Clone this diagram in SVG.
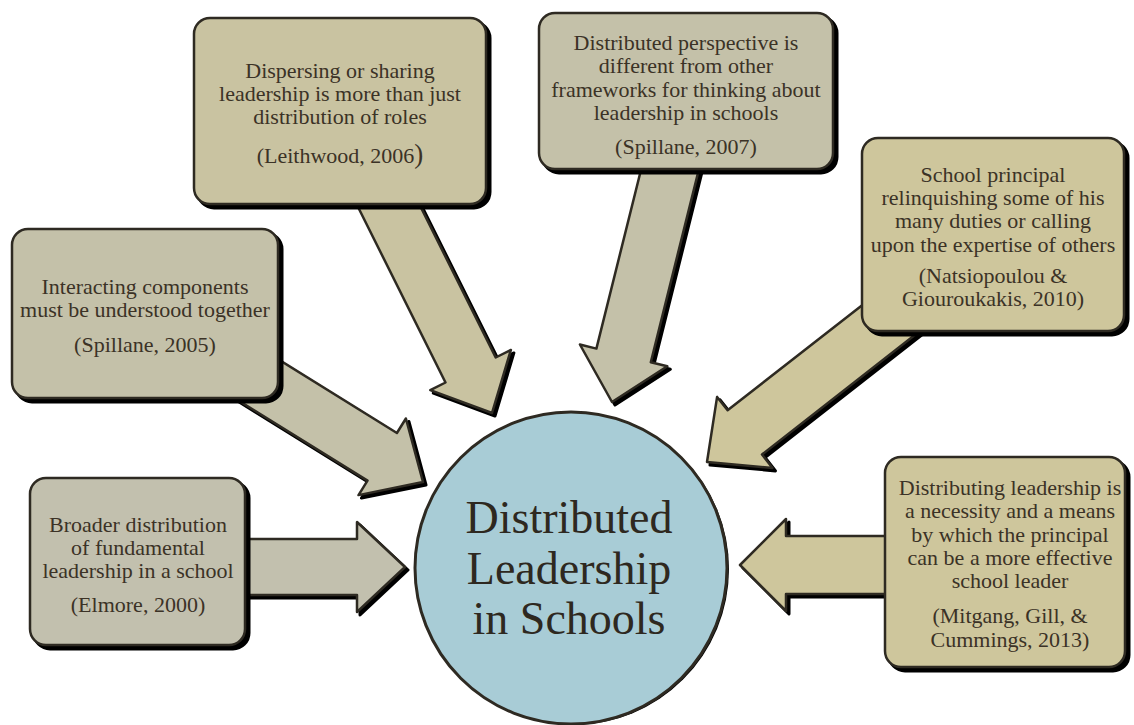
<svg xmlns="http://www.w3.org/2000/svg" width="1134" height="725" viewBox="0 0 1134 725">
<style>
.sh{fill:#000;stroke:#000;stroke-width:3;stroke-linejoin:round}
.ol{stroke:#2e2a22;stroke-width:2.5;stroke-linejoin:round}
.g{fill:#c4c1a9}
.y{fill:#c9c3a1}
.k{fill:#cec69c}
.e{fill:#c2c0ae}
text{font-family:'Liberation Serif',Tinos,'Times New Roman','DejaVu Serif',serif;font-size:22px;fill:#3b3226;text-anchor:middle}
.big{font-size:46px;fill:#2e2820}
</style>
<rect width="1134" height="725" fill="#fff"/>
<g id="connectors">
  <g id="arrow-elmore">
    <polygon class="sh" transform="translate(3,3)" points="200,595 357,595 357,612 405,567 357,522 357,539 200,539"/>
    <polygon class="ol e" points="200,595 357,595 357,612 405,567 357,522 357,539 200,539"/>
  </g>
  <g id="arrow-spillane2005">
    <polygon class="sh" transform="translate(3,3)" points="221.3,389.8 367.5,480.6 358.5,495.1 423,482 405.9,418.5 396.9,433 250.7,342.2"/>
    <polygon class="ol g" points="221.3,389.8 367.5,480.6 358.5,495.1 423,482 405.9,418.5 396.9,433 250.7,342.2"/>
  </g>
  <g id="arrow-leithwood">
    <polygon class="sh" transform="translate(3,3)" points="355.4,201.7 445.5,382.5 430.3,390.1 492,413 510.9,349.9 495.7,357.5 405.6,176.7"/>
    <polygon class="ol y" points="355.4,201.7 445.5,382.5 430.3,390.1 492,413 510.9,349.9 495.7,357.5 405.6,176.7"/>
  </g>
  <g id="arrow-spillane2007">
    <polygon class="sh" transform="translate(3,3)" points="647.7,143 596.4,348.6 579.9,344.5 612,402 667.3,366.3 650.8,362.2 702.1,156.6"/>
    <polygon class="ol g" points="647.7,143 596.4,348.6 579.9,344.5 612,402 667.3,366.3 650.8,362.2 702.1,156.6"/>
  </g>
  <g id="arrow-natsiopoulou">
    <polygon class="sh" transform="translate(3,3)" points="886.8,285.9 727.6,410.3 717.1,396.9 707,462 772.5,467.9 762,454.5 921.2,330.1"/>
    <polygon class="ol k" points="886.8,285.9 727.6,410.3 717.1,396.9 707,462 772.5,467.9 762,454.5 921.2,330.1"/>
  </g>
  <g id="arrow-mitgang">
    <polygon class="sh" transform="translate(3,3)" points="950,536 786,536 786,519 740,565 786,611 786,594 950,594"/>
    <polygon class="ol k" points="950,536 786,536 786,519 740,565 786,611 786,594 950,594"/>
  </g>
</g>

<g id="node-spillane2005">
  <rect class="sh" x="16" y="233" width="266" height="169" rx="16"/>
  <rect class="ol g" x="12" y="229" width="266" height="169" rx="16" stroke-width="3"/>
  <text x="145" y="294">Interacting components</text>
  <text x="145" y="317">must be understood together</text>
  <text x="145" y="352">(Spillane, 2005)</text>
</g>

<g id="node-leithwood">
  <rect class="sh" x="198" y="22" width="292" height="186" rx="16"/>
  <rect class="ol y" x="194" y="18" width="292" height="186" rx="16" stroke-width="3"/>
  <text x="340" y="78">Dispersing or sharing</text>
  <text x="340" y="101">leadership is more than just</text>
  <text x="340" y="124">distribution of roles</text>
  <text x="340" y="163">(Leithwood, 2006<tspan font-size="27">)</tspan></text>
</g>

<g id="node-spillane2007">
  <rect class="sh" x="543" y="17" width="294" height="156" rx="16"/>
  <rect class="ol g" x="539" y="13" width="294" height="156" rx="16" stroke-width="3"/>
  <text x="686" y="50">Distributed perspective is</text>
  <text x="686" y="73">different from other</text>
  <text x="686" y="97">frameworks for thinking about</text>
  <text x="686" y="120">leadership in schools</text>
  <text x="686" y="154">(Spillane, 2007)</text>
</g>

<g id="node-natsiopoulou">
  <rect class="sh" x="866" y="142" width="262" height="193" rx="16"/>
  <rect class="ol k" x="862" y="138" width="262" height="193" rx="16" stroke-width="3"/>
  <text x="993" y="182">School principal</text>
  <text x="993" y="205">relinquishing some of his</text>
  <text x="993" y="228">many duties or calling</text>
  <text x="993" y="252">upon the expertise of others</text>
  <text x="993" y="283">(Natsiopoulou &amp;</text>
  <text x="993" y="306">Giouroukakis, 2010)</text>
</g>

<g id="node-mitgang">
  <rect class="sh" x="889" y="461" width="240" height="210" rx="16"/>
  <rect class="ol k" x="885" y="457" width="240" height="210" rx="16" stroke-width="3"/>
  <text x="1010" y="495">Distributing leadership is</text>
  <text x="1010" y="518">a necessity and a means</text>
  <text x="1010" y="542">by which the principal</text>
  <text x="1010" y="565">can be a more effective</text>
  <text x="1010" y="588">school leader</text>
  <text x="1010" y="623">(Mitgang, Gill, &amp;</text>
  <text x="1010" y="647">Cummings, 2013)</text>
</g>

<g id="node-elmore">
  <rect class="sh" x="34" y="482" width="215" height="167" rx="16"/>
  <rect class="ol e" x="30" y="478" width="215" height="167" rx="16" stroke-width="3"/>
  <text x="138" y="532">Broader distribution</text>
  <text x="138" y="555">of fundamental</text>
  <text x="138" y="578">leadership in a school</text>
  <text x="138" y="612">(Elmore, 2000)</text>
</g>

<g id="node-center">
  <circle cx="573" cy="569" r="156" fill="#000"/>
  <circle cx="571" cy="568" r="156" fill="#a8ccd6" stroke="#2e2a22" stroke-width="3"/>
  <text class="big" x="569" y="533">Distributed</text>
  <text class="big" x="569" y="584">Leadership</text>
  <text class="big" x="569" y="634">in Schools</text>
</g>
</svg>
